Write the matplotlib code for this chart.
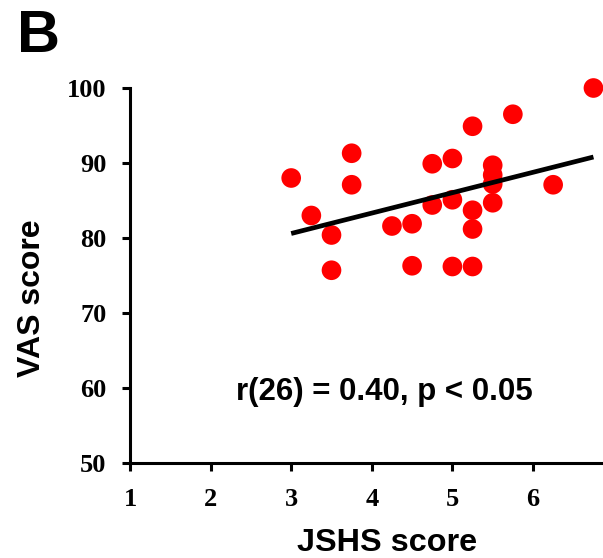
import matplotlib
matplotlib.use("Agg")
import matplotlib.pyplot as plt

jshs = [3.0, 3.25, 3.5, 3.5, 3.75, 3.75, 4.25, 4.5, 4.5, 4.75, 4.75,
        5.0, 5.0, 5.0, 5.25, 5.25, 5.25, 5.25, 5.5, 5.5, 5.5, 5.5,
        5.75, 6.25, 6.75]
vas = [88.0, 83.0, 80.4, 75.7, 91.3, 87.1, 81.6, 81.9, 76.3, 89.9, 84.4,
       90.6, 85.1, 76.2, 94.9, 83.7, 81.2, 76.2, 89.7, 88.4, 87.2, 84.7,
       96.5, 87.1, 100.0]
fit_x = [3.0, 6.75]
fit_y = [80.6, 90.8]
x_ticks = [1, 2, 3, 4, 5, 6]
y_ticks = [50, 60, 70, 80, 90, 100]
annotation = "r(26) = 0.40, p < 0.05"

fig = plt.figure(figsize=(6.03, 5.58), dpi=100)
ax = fig.add_axes([130/603, 95/558, (613.6-130)/603, (463-88)/558])
ax.scatter(jshs, vas, s=200, color="#ff0000", edgecolors="none", zorder=3, clip_on=False)
ax.plot(fit_x, fit_y, color="black", lw=3.4, zorder=4, solid_capstyle="butt")

ax.set_xlim(1, 7)
ax.set_ylim(50, 100)
ax.set_xticks(x_ticks)
ax.set_yticks(y_ticks)
for s in ["top", "right"]:
    ax.spines[s].set_visible(False)
for s in ["left", "bottom"]:
    ax.spines[s].set_linewidth(2.2)
ax.tick_params(axis="both", width=2.2, length=6, direction="out")
ax.tick_params(axis="x", pad=12)
ax.tick_params(axis="y", pad=11)
for lab in ax.get_xticklabels() + ax.get_yticklabels():
    lab.set_fontfamily("Liberation Serif")
    lab.set_fontweight("bold")
    lab.set_fontsize(19)

fig.text(387/603, 1-551/558, "JSHS score", ha="center", va="baseline",
         fontfamily="Liberation Sans", fontweight="bold", fontsize=23.3)
fig.text(32/603, 1-298/558, "VAS score", ha="center", va="center", rotation=90,
         fontfamily="Liberation Sans", fontweight="bold", fontsize=23)
fig.text(384/603, 1-392/558, annotation, ha="center", va="center",
         fontfamily="Liberation Sans", fontweight="bold", fontsize=22.5)
fig.text(17/603, 1-36/558, "B", ha="left", va="center",
         fontfamily="Liberation Sans", fontweight="bold", fontsize=43)

fig.savefig("out.png", dpi=100)
